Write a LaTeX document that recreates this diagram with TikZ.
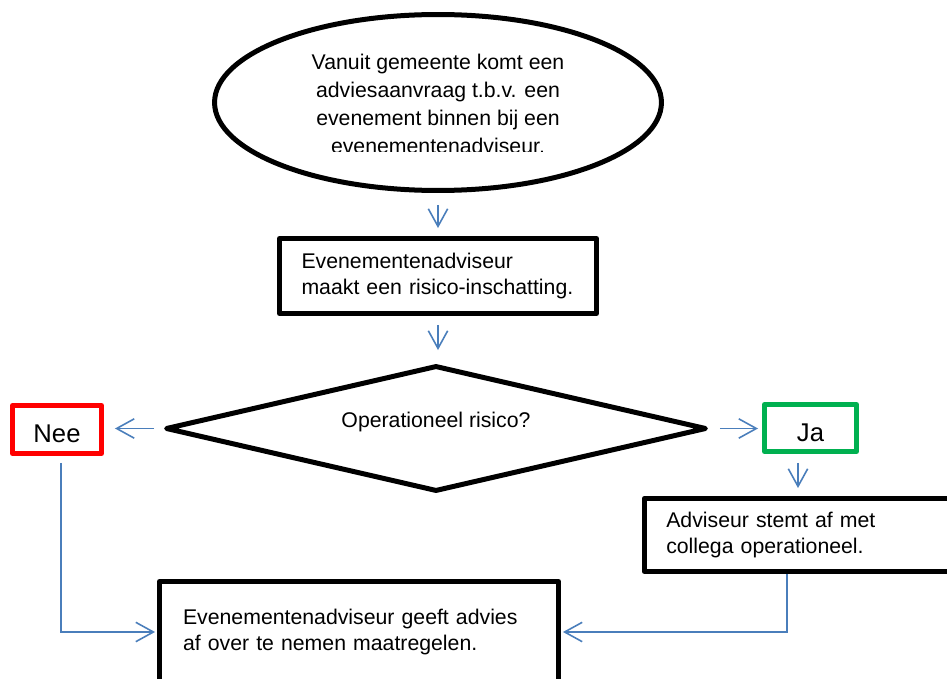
\documentclass[tikz,border=0pt]{standalone}
\usepackage{fontspec}
\setmainfont{Liberation Sans}
\usetikzlibrary{shapes.geometric,arrows.meta}
\definecolor{flowblue}{HTML}{4A7EBB}
\definecolor{neered}{HTML}{FF0000}
\definecolor{jagreen}{HTML}{00B050}
\tikzset{
  box/.style={draw, line width=0.1cm, line join=round, inner xsep=0.44cm, inner ysep=0pt, align=left, font=\fontsize{12.1}{15}\selectfont},
  answer/.style={draw, line width=0.1cm, line join=round, inner sep=0pt, text height=15pt, text depth=0pt, font=\fontsize{14.6}{17}\selectfont},
  flow/.style={draw=flowblue, line width=0.9pt, -{Straight Barb[length=10pt, width=11pt]}},
}

\begin{document}
\begin{tikzpicture}[x=0.02cm, y=-0.02cm]
\useasboundingbox (0,0) rectangle (947,679);
\clip (0,0) rectangle (947,679);
\node[draw, ellipse, line width=0.1cm, minimum width=8.94cm, minimum height=3.52cm, inner sep=0pt] (start) at (438,102.5) {};
\begin{scope}
\clip (200,0) rectangle (680,152);
\node[align=center, inner sep=0pt, font=\fontsize{12.1}{15.9}\selectfont] (starttext) at (438,104) {Vanuit gemeente komt een\\adviesaanvraag t.b.v. een\\evenement binnen bij een\\evenementenadviseur.};
\end{scope}
\node[box, text width=5.46cm, minimum height=1.5cm] (assess) at (438,276) {Evenementenadviseur\\maakt een risico-inschatting.};
\node[draw, diamond, line width=0.1cm, line join=round, minimum width=10.82cm, minimum height=2.52cm, inner sep=0pt] (risk) at (436,428.5) {};
\node[inner sep=0pt, font=\fontsize{12.1}{15}\selectfont] (risktext) at ([yshift=0.14cm]risk.center) {Operationeel risico?};
\node[answer, draw=neered, minimum width=1.78cm, minimum height=0.96cm] (nee) at (57,429.5) {Nee};
\node[answer, draw=jagreen, minimum width=1.84cm, minimum height=0.94cm] (ja) at (810.5,428) {Ja};
\node[box, text width=5.47cm, minimum height=1.46cm] (consult) at (803,535) {Adviseur stemt af met\\collega operationeel.};
\node[box, inner xsep=0.47cm, text width=7.04cm, minimum height=2.02cm] (advice) at (359,632) {Evenementenadviseur geeft advies\\af over te nemen maatregelen.};
\coordinate (neeout) at (61,0);
\coordinate (jaout) at (798,0);
\coordinate (consultout) at (787,0);
\draw[flow, shorten <=0.24cm, shorten >=0.16cm] (start.south) -- (assess.north);
\draw[flow, shorten <=0.18cm, shorten >=0.26cm] (assess.south) -- (assess.south |- risk.north);
\draw[flow, shorten <=0.18cm, shorten >=0.22cm] (risk.west) -- (risk.west -| nee.east);
\draw[flow, shorten <=0.22cm, shorten >=0.08cm] (risk.east) -- (risk.east -| ja.west);
\draw[flow, shorten <=0.18cm, shorten >=0.16cm] (ja.south -| jaout) -- (jaout |- consult.north);
\draw[flow, shorten <=0.14cm, shorten >=0.04cm] (nee.south -| neeout) |- (advice.west);
\draw[flow, shorten >=0.04cm] (consult.south -| consultout) |- (advice.east);
\end{tikzpicture}
\end{document}
